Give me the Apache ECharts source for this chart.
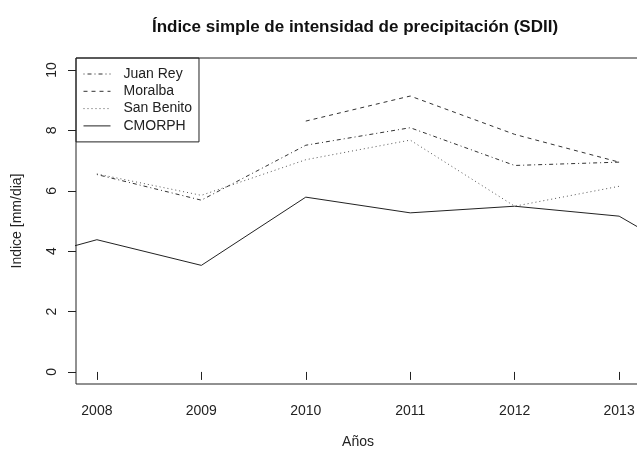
<!DOCTYPE html>
<html>
<head>
<meta charset="utf-8">
<script src="https://cdn.jsdelivr.net/npm/echarts@6/dist/echarts.min.js"></script>
<style>
html, body { margin: 0; padding: 0; background: #fff; }
#chart { width: 637px; height: 450px; }
</style>
</head>
<body>
<div id="chart"></div>
<script>
var years = [2008, 2009, 2010, 2011, 2012, 2013];
var yearsCmorph = [2007, 2008, 2009, 2010, 2011, 2012, 2013, 2014];
var juanRey = [6.54, 5.69, 7.51, 8.09, 6.84, 6.95];
var moralba = [null, null, 8.31, 9.14, 7.87, 6.95];
var sanBenito = [6.56, 5.85, 7.03, 7.68, 5.49, 6.15];
var cmorph = [3.43, 4.38, 3.53, 5.79, 5.27, 5.49, 5.16, 3.16];
var yTicks = [0, 2, 4, 6, 8, 10];

function pares(xs, ys) {
    var out = [];
    for (var i = 0; i < xs.length; i++) {
        if (ys[i] != null) out.push([xs[i], ys[i]]);
    }
    return out;
}

var fuente = '"Liberation Sans", Arial, sans-serif';
var myChart = echarts.init(document.getElementById('chart'));

function serie(nombre, datos, tipo, color) {
    return {
        name: nombre,
        type: 'line',
        data: datos,
        symbol: 'none',
        clip: true,
        animation: false,
        lineStyle: { color: color, width: 1, type: tipo },
        itemStyle: { color: color }
    };
}

var option = {
    backgroundColor: '#fff',
    textStyle: { fontFamily: fuente },
    title: {
        text: 'Índice simple de intensidad de precipitación (SDII)',
        left: 350,
        textAlign: 'center',
        top: 14,
        textStyle: { fontFamily: fuente, fontSize: 17, fontWeight: 'bold', color: '#111' }
    },
    legend: {
        orient: 'vertical',
        left: 76,
        top: 58,
        itemWidth: 27,
        itemHeight: 14,
        itemGap: 3.3,
        padding: [9, 7, 9, 7],
        borderColor: '#222',
        borderWidth: 1,
        borderRadius: 0,
        itemStyle: { opacity: 0 }, // solo la línea, sin círculo
        lineStyle: { width: 1 },
        textStyle: { fontFamily: fuente, fontSize: 14, color: '#222', padding: [0, 0, 0, 8] },
        data: ['Juan Rey', 'Moralba', 'San Benito', 'CMORPH']
    },
    grid: {
        left: 76,
        top: 58,
        right: -3,
        bottom: 66,
        outerBoundsMode: 'none',
        containLabel: false,
        show: true,
        borderColor: '#222',
        borderWidth: 1,
        backgroundColor: 'transparent'
    },
    xAxis: {
        type: 'value',
        min: 2007.8,
        max: 2013.2,
        name: 'Años',
        nameLocation: 'middle',
        nameGap: 51,
        nameTextStyle: { fontFamily: fuente, fontSize: 14, color: '#222' },
        axisLine: { show: false },
        axisTick: { show: true, length: 8, lineStyle: { color: '#222' }, customValues: years },
        axisLabel: {
            fontFamily: fuente, fontSize: 14, color: '#222', margin: 20, customValues: years,
            formatter: function(v) { return String(v); }
        },
        splitLine: { show: false }
    },
    yAxis: {
        type: 'value',
        min: -0.4,
        max: 10.4,
        name: 'Indice [mm/dia]',
        nameLocation: 'middle',
        nameGap: 52,
        nameTextStyle: { fontFamily: fuente, fontSize: 14, color: '#222' },
        axisLine: { show: false },
        axisTick: { show: true, length: 8, lineStyle: { color: '#222' }, customValues: yTicks },
        axisLabel: { fontFamily: fuente, fontSize: 14, color: '#222', margin: 17, rotate: 90, customValues: yTicks },
        splitLine: { show: false }
    },
    series: [
        serie('Juan Rey', pares(years, juanRey), [1, 3, 4, 3], '#333'),
        serie('Moralba', pares(years, moralba), [4, 4], '#333'),
        serie('San Benito', pares(years, sanBenito), [1, 3], '#555'),
        serie('CMORPH', pares(yearsCmorph, cmorph), 'solid', '#222')
    ]
};
myChart.setOption(option, true);
</script>
</body>
</html>
